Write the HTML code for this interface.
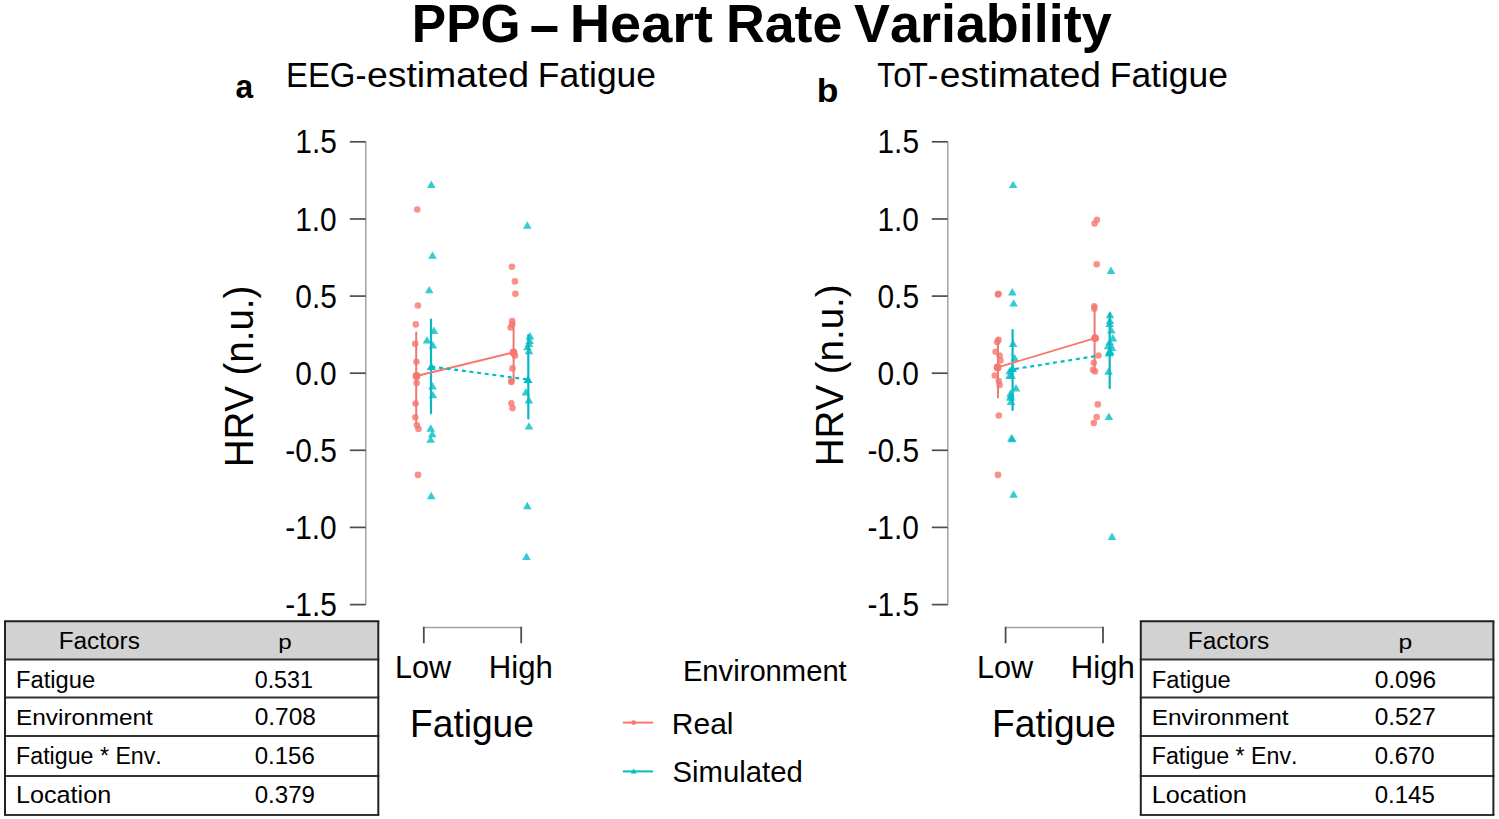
<!DOCTYPE html>
<html><head><meta charset="utf-8"><title>PPG - Heart Rate Variability</title>
<style>
html,body{margin:0;padding:0;background:#fff;}
body{width:1499px;height:819px;overflow:hidden;}
svg{display:block;font-family:"Liberation Sans",sans-serif;font-kerning:none;}
text{font-kerning:none;}
</style></head><body>
<svg width="1499" height="819" viewBox="0 0 1499 819">
<rect width="1499" height="819" fill="#fff"/>
<text transform="translate(411.86 42.40) scale(0.9497 1)" font-size="54.22" font-weight="bold" fill="#000">PPG</text>
<text transform="translate(569.66 42.40) scale(1.0326 1)" font-size="54.22" font-weight="bold" fill="#000">Heart</text>
<text transform="translate(725.90 42.40) scale(0.9917 1)" font-size="54.22" font-weight="bold" fill="#000">Rate</text>
<text transform="translate(854.03 42.40) scale(0.9943 1)" font-size="54.22" font-weight="bold" fill="#000">Variability</text>
<rect x="531.4" y="26.0" width="26.0" height="6.0" fill="#000"/>
<text transform="translate(235.47 97.80) scale(0.9543 1)" font-size="33.21" font-weight="bold" fill="#000">a</text>
<text transform="translate(816.66 102.40) scale(1.0648 1)" font-size="33.36" font-weight="bold" fill="#000">b</text>
<text transform="translate(286.00 86.60) scale(0.9297 1)" font-size="35.40" fill="#000">EEG-</text>
<text transform="translate(366.91 86.60) scale(1.0569 1)" font-size="35.40" fill="#000">estimated</text>
<text transform="translate(537.79 86.60) scale(1.0018 1)" font-size="35.40" fill="#000">Fatigue</text>
<text transform="translate(877.34 87.00) scale(0.8296 1)" font-size="35.60" fill="#000">T</text>
<text transform="translate(908.70 87.00) scale(0.8777 1)" font-size="35.60" fill="#000">T-</text>
<text transform="translate(939.82 87.00) scale(1.0449 1)" font-size="35.60" fill="#000">estimated</text>
<text transform="translate(1109.79 87.00) scale(0.9953 1)" font-size="35.60" fill="#000">Fatigue</text>
<text transform="translate(893.21 87.00) scale(0.9281 1)" font-size="35.60" fill="#000">o</text>
<text transform="translate(253.10 467.36) rotate(-90) scale(0.9592 1)" font-size="40.12" fill="#000">HRV (n.u.)</text>
<text transform="translate(842.90 466.16) rotate(-90) scale(0.9697 1)" font-size="39.68" fill="#000">HRV (n.u.)</text>
<path d="M365.8 141.8V604.6" stroke="#a3a3a3" stroke-width="1.5" fill="none"/>
<path d="M349.8 141.8H365.8" stroke="#4d4d4d" stroke-width="1.7"/>
<path d="M349.8 219.0H365.8" stroke="#4d4d4d" stroke-width="1.7"/>
<path d="M349.8 296.1H365.8" stroke="#4d4d4d" stroke-width="1.7"/>
<path d="M349.8 373.2H365.8" stroke="#4d4d4d" stroke-width="1.7"/>
<path d="M349.8 450.3H365.8" stroke="#4d4d4d" stroke-width="1.7"/>
<path d="M349.8 527.4H365.8" stroke="#4d4d4d" stroke-width="1.7"/>
<path d="M349.8 604.6H365.8" stroke="#4d4d4d" stroke-width="1.7"/>
<text transform="translate(295.27 153.40) scale(0.965 1.045)" font-size="31.0" fill="#000">1.5</text>
<text transform="translate(295.18 230.60) scale(0.965 1.045)" font-size="31.0" fill="#000">1.0</text>
<text transform="translate(295.27 307.70) scale(0.965 1.045)" font-size="31.0" fill="#000">0.5</text>
<text transform="translate(295.18 384.80) scale(0.965 1.045)" font-size="31.0" fill="#000">0.0</text>
<text transform="translate(285.31 461.90) scale(0.965 1.045)" font-size="31.0" fill="#000">-0.5</text>
<text transform="translate(285.22 539.00) scale(0.965 1.045)" font-size="31.0" fill="#000">-1.0</text>
<text transform="translate(285.31 616.20) scale(0.965 1.045)" font-size="31.0" fill="#000">-1.5</text>
<path d="M947.8 141.8V604.6" stroke="#a3a3a3" stroke-width="1.5" fill="none"/>
<path d="M931.8 141.8H947.8" stroke="#4d4d4d" stroke-width="1.7"/>
<path d="M931.8 219.0H947.8" stroke="#4d4d4d" stroke-width="1.7"/>
<path d="M931.8 296.1H947.8" stroke="#4d4d4d" stroke-width="1.7"/>
<path d="M931.8 373.2H947.8" stroke="#4d4d4d" stroke-width="1.7"/>
<path d="M931.8 450.3H947.8" stroke="#4d4d4d" stroke-width="1.7"/>
<path d="M931.8 527.4H947.8" stroke="#4d4d4d" stroke-width="1.7"/>
<path d="M931.8 604.6H947.8" stroke="#4d4d4d" stroke-width="1.7"/>
<text transform="translate(877.47 153.40) scale(0.965 1.045)" font-size="31.0" fill="#000">1.5</text>
<text transform="translate(877.38 230.60) scale(0.965 1.045)" font-size="31.0" fill="#000">1.0</text>
<text transform="translate(877.47 307.70) scale(0.965 1.045)" font-size="31.0" fill="#000">0.5</text>
<text transform="translate(877.38 384.80) scale(0.965 1.045)" font-size="31.0" fill="#000">0.0</text>
<text transform="translate(867.51 461.90) scale(0.965 1.045)" font-size="31.0" fill="#000">-0.5</text>
<text transform="translate(867.42 539.00) scale(0.965 1.045)" font-size="31.0" fill="#000">-1.0</text>
<text transform="translate(867.51 616.20) scale(0.965 1.045)" font-size="31.0" fill="#000">-1.5</text>
<path d="M423.8 627.5H521.2" stroke="#a3a3a3" stroke-width="1.5" fill="none"/>
<path d="M423.8 626.8V643.2M521.2 626.8V643.2" stroke="#4d4d4d" stroke-width="1.8" fill="none"/>
<text transform="translate(394.89 678.20) scale(0.9501 1)" font-size="32.27" fill="#000">Low</text>
<text transform="translate(488.74 678.20) scale(0.9656 1)" font-size="32.27" fill="#000">High</text>
<text transform="translate(410.05 736.80) scale(0.9754 1)" font-size="38.08" fill="#000">Fatigue</text>
<path d="M1005.6 627.5H1103.0" stroke="#a3a3a3" stroke-width="1.5" fill="none"/>
<path d="M1005.6 626.8V643.2M1103.0 626.8V643.2" stroke="#4d4d4d" stroke-width="1.8" fill="none"/>
<text transform="translate(976.89 678.20) scale(0.9501 1)" font-size="32.27" fill="#000">Low</text>
<text transform="translate(1070.74 678.20) scale(0.9656 1)" font-size="32.27" fill="#000">High</text>
<text transform="translate(992.05 736.80) scale(0.9754 1)" font-size="38.08" fill="#000">Fatigue</text>
<circle cx="417.2" cy="209.5" r="3.3" fill="#F8766D" fill-opacity="0.8"/>
<circle cx="417.9" cy="305.5" r="3.3" fill="#F8766D" fill-opacity="0.8"/>
<circle cx="415.8" cy="324.4" r="3.3" fill="#F8766D" fill-opacity="0.8"/>
<circle cx="415.2" cy="343.8" r="3.3" fill="#F8766D" fill-opacity="0.8"/>
<circle cx="416.4" cy="361.7" r="3.3" fill="#F8766D" fill-opacity="0.8"/>
<circle cx="416.6" cy="376.4" r="3.3" fill="#F8766D" fill-opacity="0.8"/>
<circle cx="416.6" cy="383.1" r="3.3" fill="#F8766D" fill-opacity="0.8"/>
<circle cx="415.6" cy="403.5" r="3.3" fill="#F8766D" fill-opacity="0.8"/>
<circle cx="415.3" cy="417.3" r="3.3" fill="#F8766D" fill-opacity="0.8"/>
<circle cx="416.9" cy="425.2" r="3.3" fill="#F8766D" fill-opacity="0.8"/>
<circle cx="418.5" cy="428.9" r="3.3" fill="#F8766D" fill-opacity="0.8"/>
<circle cx="418" cy="474.9" r="3.3" fill="#F8766D" fill-opacity="0.8"/>
<circle cx="511.9" cy="266.7" r="3.3" fill="#F8766D" fill-opacity="0.8"/>
<circle cx="514.9" cy="281.4" r="3.3" fill="#F8766D" fill-opacity="0.8"/>
<circle cx="515.4" cy="293.7" r="3.3" fill="#F8766D" fill-opacity="0.8"/>
<circle cx="512.2" cy="321.1" r="3.3" fill="#F8766D" fill-opacity="0.8"/>
<circle cx="512.2" cy="324.3" r="3.3" fill="#F8766D" fill-opacity="0.8"/>
<circle cx="510.6" cy="327.5" r="3.3" fill="#F8766D" fill-opacity="0.8"/>
<circle cx="515" cy="355.7" r="3.3" fill="#F8766D" fill-opacity="0.8"/>
<circle cx="512.5" cy="368.4" r="3.3" fill="#F8766D" fill-opacity="0.8"/>
<circle cx="511.3" cy="381.1" r="3.3" fill="#F8766D" fill-opacity="0.8"/>
<circle cx="511.3" cy="382" r="3.3" fill="#F8766D" fill-opacity="0.8"/>
<circle cx="511.3" cy="403.3" r="3.3" fill="#F8766D" fill-opacity="0.8"/>
<circle cx="512.5" cy="408.1" r="3.3" fill="#F8766D" fill-opacity="0.8"/>
<path d="M431.3 180.6L435.6 188.0L427.0 188.0Z" fill="#00BFC4" fill-opacity="0.8"/>
<path d="M432.5 251.4L436.8 258.8L428.2 258.8Z" fill="#00BFC4" fill-opacity="0.8"/>
<path d="M429.2 285.9L433.5 293.3L424.9 293.3Z" fill="#00BFC4" fill-opacity="0.8"/>
<path d="M433.9 326.5L438.2 333.9L429.6 333.9Z" fill="#00BFC4" fill-opacity="0.8"/>
<path d="M427.0 336.2L431.3 343.6L422.7 343.6Z" fill="#00BFC4" fill-opacity="0.8"/>
<path d="M432.9 341.1L437.2 348.5L428.6 348.5Z" fill="#00BFC4" fill-opacity="0.8"/>
<path d="M432.5 382.1L436.8 389.5L428.2 389.5Z" fill="#00BFC4" fill-opacity="0.8"/>
<path d="M433.0 390.9L437.3 398.3L428.7 398.3Z" fill="#00BFC4" fill-opacity="0.8"/>
<path d="M430.7 424.3L435.0 431.7L426.4 431.7Z" fill="#00BFC4" fill-opacity="0.8"/>
<path d="M432.3 429.9L436.6 437.3L428.0 437.3Z" fill="#00BFC4" fill-opacity="0.8"/>
<path d="M430.7 435.4L435.0 442.8L426.4 442.8Z" fill="#00BFC4" fill-opacity="0.8"/>
<path d="M431.2 491.8L435.5 499.2L426.9 499.2Z" fill="#00BFC4" fill-opacity="0.8"/>
<path d="M527.3 221.3L531.6 228.7L523.0 228.7Z" fill="#00BFC4" fill-opacity="0.8"/>
<path d="M530.0 332.1L534.3 339.5L525.7 339.5Z" fill="#00BFC4" fill-opacity="0.8"/>
<path d="M529.7 336.5L534.0 343.9L525.4 343.9Z" fill="#00BFC4" fill-opacity="0.8"/>
<path d="M529.0 339.7L533.3 347.1L524.7 347.1Z" fill="#00BFC4" fill-opacity="0.8"/>
<path d="M527.5 342.9L531.8 350.3L523.2 350.3Z" fill="#00BFC4" fill-opacity="0.8"/>
<path d="M529.0 346.9L533.3 354.3L524.7 354.3Z" fill="#00BFC4" fill-opacity="0.8"/>
<path d="M525.9 388.1L530.2 395.5L521.6 395.5Z" fill="#00BFC4" fill-opacity="0.8"/>
<path d="M528.9 396.1L533.2 403.5L524.6 403.5Z" fill="#00BFC4" fill-opacity="0.8"/>
<path d="M529.0 422.2L533.3 429.6L524.7 429.6Z" fill="#00BFC4" fill-opacity="0.8"/>
<path d="M527.3 501.8L531.6 509.2L523.0 509.2Z" fill="#00BFC4" fill-opacity="0.8"/>
<path d="M526.5 552.6L530.8 560.0L522.2 560.0Z" fill="#00BFC4" fill-opacity="0.8"/>
<path d="M416.2 332.4V424" stroke="#EA7A76" stroke-width="2.0" stroke-linecap="round"/>
<path d="M431.0 319.6V413.3" stroke="#0CB6C3" stroke-width="2.2" stroke-linecap="round"/>
<path d="M513.6 324V381" stroke="#EA7A76" stroke-width="2.0" stroke-linecap="round"/>
<path d="M528.3 335V418.4" stroke="#0CB6C3" stroke-width="2.2" stroke-linecap="round"/>
<path d="M416.5 376.0L513.5 352.5" stroke="#F8766D" stroke-width="1.9"/>
<path d="M431.3 366.6L528 379.5" stroke="#00BFC4" stroke-width="2.2" stroke-dasharray="4 3.7"/>
<circle cx="416.5" cy="376.0" r="3.9" fill="#F8766D"/>
<path d="M431.3 362.4L435.8 370.0L426.8 370.0Z" fill="#00BFC4"/>
<circle cx="513.5" cy="352.5" r="3.9" fill="#F8766D"/>
<path d="M528.0 375.3L532.5 382.9L523.5 382.9Z" fill="#00BFC4"/>
<circle cx="998.5" cy="293.7" r="3.3" fill="#F8766D" fill-opacity="0.8"/>
<circle cx="998.0" cy="294.6" r="3.3" fill="#F8766D" fill-opacity="0.8"/>
<circle cx="998.5" cy="339.8" r="3.3" fill="#F8766D" fill-opacity="0.8"/>
<circle cx="997.2" cy="342.1" r="3.3" fill="#F8766D" fill-opacity="0.8"/>
<circle cx="995.6" cy="351.7" r="3.3" fill="#F8766D" fill-opacity="0.8"/>
<circle cx="999.6" cy="355.6" r="3.3" fill="#F8766D" fill-opacity="0.8"/>
<circle cx="1000.4" cy="360.4" r="3.3" fill="#F8766D" fill-opacity="0.8"/>
<circle cx="994.8" cy="375.5" r="3.3" fill="#F8766D" fill-opacity="0.8"/>
<circle cx="998.8" cy="381" r="3.3" fill="#F8766D" fill-opacity="0.8"/>
<circle cx="999.6" cy="385" r="3.3" fill="#F8766D" fill-opacity="0.8"/>
<circle cx="998.8" cy="415.5" r="3.3" fill="#F8766D" fill-opacity="0.8"/>
<circle cx="998" cy="474.9" r="3.3" fill="#F8766D" fill-opacity="0.8"/>
<circle cx="1097" cy="219.8" r="3.3" fill="#F8766D" fill-opacity="0.8"/>
<circle cx="1094.6" cy="223.5" r="3.3" fill="#F8766D" fill-opacity="0.8"/>
<circle cx="1096.7" cy="264.3" r="3.3" fill="#F8766D" fill-opacity="0.8"/>
<circle cx="1094.3" cy="306.3" r="3.3" fill="#F8766D" fill-opacity="0.8"/>
<circle cx="1094.3" cy="308.7" r="3.3" fill="#F8766D" fill-opacity="0.8"/>
<circle cx="1093.8" cy="362.7" r="3.3" fill="#F8766D" fill-opacity="0.8"/>
<circle cx="1093" cy="369.8" r="3.3" fill="#F8766D" fill-opacity="0.8"/>
<circle cx="1095" cy="371.4" r="3.3" fill="#F8766D" fill-opacity="0.8"/>
<circle cx="1098.5" cy="355.5" r="3.3" fill="#F8766D" fill-opacity="0.8"/>
<circle cx="1097.8" cy="404.4" r="3.3" fill="#F8766D" fill-opacity="0.8"/>
<circle cx="1096.7" cy="417.1" r="3.3" fill="#F8766D" fill-opacity="0.8"/>
<circle cx="1093.8" cy="423" r="3.3" fill="#F8766D" fill-opacity="0.8"/>
<path d="M1013.1 180.7L1017.4 188.1L1008.8 188.1Z" fill="#00BFC4" fill-opacity="0.8"/>
<path d="M1012.3 288.0L1016.6 295.4L1008.0 295.4Z" fill="#00BFC4" fill-opacity="0.8"/>
<path d="M1013.6 299.2L1017.9 306.6L1009.3 306.6Z" fill="#00BFC4" fill-opacity="0.8"/>
<path d="M1013.1 339.6L1017.4 347.0L1008.8 347.0Z" fill="#00BFC4" fill-opacity="0.8"/>
<path d="M1014.7 353.9L1019.0 361.3L1010.4 361.3Z" fill="#00BFC4" fill-opacity="0.8"/>
<path d="M1011.5 371.4L1015.8 378.8L1007.2 378.8Z" fill="#00BFC4" fill-opacity="0.8"/>
<path d="M1016.0 384.1L1020.3 391.5L1011.7 391.5Z" fill="#00BFC4" fill-opacity="0.8"/>
<path d="M1010.7 392.0L1015.0 399.4L1006.4 399.4Z" fill="#00BFC4" fill-opacity="0.8"/>
<path d="M1011.0 397.6L1015.3 405.0L1006.7 405.0Z" fill="#00BFC4" fill-opacity="0.8"/>
<path d="M1009.7 366.9L1014.0 374.3L1005.4 374.3Z" fill="#00BFC4" fill-opacity="0.8"/>
<path d="M1009.5 371.6L1013.8 379.0L1005.2 379.0Z" fill="#00BFC4" fill-opacity="0.8"/>
<path d="M1010.5 389.3L1014.8 396.7L1006.2 396.7Z" fill="#00BFC4" fill-opacity="0.8"/>
<path d="M1010.5 393.4L1014.8 400.8L1006.2 400.8Z" fill="#00BFC4" fill-opacity="0.8"/>
<path d="M1011.5 434.0L1015.8 441.4L1007.2 441.4Z" fill="#00BFC4" fill-opacity="0.8"/>
<path d="M1012.3 434.8L1016.6 442.2L1008.0 442.2Z" fill="#00BFC4" fill-opacity="0.8"/>
<path d="M1013.6 490.3L1017.9 497.7L1009.3 497.7Z" fill="#00BFC4" fill-opacity="0.8"/>
<path d="M1111.0 266.5L1115.3 273.9L1106.7 273.9Z" fill="#00BFC4" fill-opacity="0.8"/>
<path d="M1110.0 310.9L1114.3 318.3L1105.7 318.3Z" fill="#00BFC4" fill-opacity="0.8"/>
<path d="M1110.0 316.5L1114.3 323.9L1105.7 323.9Z" fill="#00BFC4" fill-opacity="0.8"/>
<path d="M1109.7 319.7L1114.0 327.1L1105.4 327.1Z" fill="#00BFC4" fill-opacity="0.8"/>
<path d="M1111.3 326.1L1115.6 333.5L1107.0 333.5Z" fill="#00BFC4" fill-opacity="0.8"/>
<path d="M1112.9 334.0L1117.2 341.4L1108.6 341.4Z" fill="#00BFC4" fill-opacity="0.8"/>
<path d="M1109.7 337.9L1114.0 345.3L1105.4 345.3Z" fill="#00BFC4" fill-opacity="0.8"/>
<path d="M1108.1 341.9L1112.4 349.3L1103.8 349.3Z" fill="#00BFC4" fill-opacity="0.8"/>
<path d="M1112.0 343.5L1116.3 350.9L1107.7 350.9Z" fill="#00BFC4" fill-opacity="0.8"/>
<path d="M1109.7 346.7L1114.0 354.1L1105.4 354.1Z" fill="#00BFC4" fill-opacity="0.8"/>
<path d="M1108.9 349.1L1113.2 356.5L1104.6 356.5Z" fill="#00BFC4" fill-opacity="0.8"/>
<path d="M1108.6 367.3L1112.9 374.7L1104.3 374.7Z" fill="#00BFC4" fill-opacity="0.8"/>
<path d="M1108.9 412.6L1113.2 420.0L1104.6 420.0Z" fill="#00BFC4" fill-opacity="0.8"/>
<path d="M1112.0 532.6L1116.3 540.0L1107.7 540.0Z" fill="#00BFC4" fill-opacity="0.8"/>
<path d="M998 338.2V397.5" stroke="#EA7A76" stroke-width="2.0" stroke-linecap="round"/>
<path d="M1012.6 330.2V410" stroke="#0CB6C3" stroke-width="2.2" stroke-linecap="round"/>
<path d="M1094.6 305.6V371.4" stroke="#EA7A76" stroke-width="2.0" stroke-linecap="round"/>
<path d="M1109.7 313.5V388.1" stroke="#0CB6C3" stroke-width="2.2" stroke-linecap="round"/>
<path d="M997.6 367.4L1095.1 338.1" stroke="#F8766D" stroke-width="1.9"/>
<path d="M1015 369L1098.7 355.6" stroke="#00BFC4" stroke-width="2.2" stroke-dasharray="4 3.7"/>
<circle cx="997.6" cy="367.4" r="3.9" fill="#F8766D"/>
<path d="M1012.5 364.3L1017.0 371.9L1008.0 371.9Z" fill="#00BFC4"/>
<circle cx="1095.1" cy="338.1" r="3.9" fill="#F8766D"/>
<path d="M1110.0 347.8L1114.5 355.4L1105.5 355.4Z" fill="#00BFC4"/>
<text transform="translate(682.90 681.00) scale(1.0094 1)" font-size="28.92" fill="#000">Environment</text>
<path d="M622.9 722.6H653.1" stroke="#F8766D" stroke-width="2"/>
<circle cx="633.7" cy="722.6" r="2.4" fill="#F8766D"/>
<path d="M622.9 771.4H653.1" stroke="#00BFC4" stroke-width="2"/>
<path d="M633.7 768.6L636.7 773.6L630.7 773.6Z" fill="#00BFC4"/>
<text transform="translate(671.84 733.50) scale(1.0063 1)" font-size="29.80" fill="#000">Real</text>
<text transform="translate(672.47 781.80) scale(0.9701 1)" font-size="30.23" fill="#000">Simulated</text>
<rect x="5.0" y="621.2" width="373.3" height="38.39999999999998" fill="#d2d2d2"/>
<path d="M4.0 621.2H379.3" stroke="#1e1e1e" stroke-width="2"/>
<path d="M4.0 659.6H379.3" stroke="#333" stroke-width="2"/>
<path d="M4.0 697.5H379.3" stroke="#333" stroke-width="2"/>
<path d="M4.0 736.1H379.3" stroke="#333" stroke-width="2"/>
<path d="M4.0 775.9H379.3" stroke="#333" stroke-width="2"/>
<path d="M4.0 814.9H379.3" stroke="#333" stroke-width="2"/>
<path d="M5.0 621.2V814.9M378.3 621.2V814.9" stroke="#222" stroke-width="2"/>
<rect x="1140.8" y="621.2" width="352.60000000000014" height="38.39999999999998" fill="#d2d2d2"/>
<path d="M1139.8 621.2H1494.4" stroke="#1e1e1e" stroke-width="2"/>
<path d="M1139.8 659.6H1494.4" stroke="#333" stroke-width="2"/>
<path d="M1139.8 697.5H1494.4" stroke="#333" stroke-width="2"/>
<path d="M1139.8 736.1H1494.4" stroke="#333" stroke-width="2"/>
<path d="M1139.8 775.9H1494.4" stroke="#333" stroke-width="2"/>
<path d="M1139.8 814.9H1494.4" stroke="#333" stroke-width="2"/>
<path d="M1140.8 621.2V814.9M1493.4 621.2V814.9" stroke="#222" stroke-width="2"/>
<text transform="translate(58.70 648.70) scale(1.0290 1)" font-size="23.69" fill="#000">Factors</text>
<text transform="translate(278.14 649.00) scale(1.1634 1)" font-size="20.83" fill="#000">p</text>
<text transform="translate(16.05 687.50) scale(1.0010 1)" font-size="23.69" fill="#000">Fatigue</text>
<text transform="translate(254.69 687.50) scale(1.0128 1)" font-size="23.02" fill="#000">0.531</text>
<text transform="translate(16.00 724.80) scale(1.0693 1)" font-size="22.82" fill="#000">Environment</text>
<text transform="translate(254.64 724.80) scale(1.0626 1)" font-size="23.02" fill="#000">0.708</text>
<text transform="translate(16.10 763.90) scale(0.9799 1)" font-size="23.69" fill="#000">Fatigue * Env.</text>
<text transform="translate(254.66 763.90) scale(1.0449 1)" font-size="23.02" fill="#000">0.156</text>
<text transform="translate(15.93 803.30) scale(1.0706 1)" font-size="23.55" fill="#000">Location</text>
<text transform="translate(254.66 803.30) scale(1.0463 1)" font-size="23.02" fill="#000">0.379</text>
<text transform="translate(1187.80 648.70) scale(1.0316 1)" font-size="23.69" fill="#000">Factors</text>
<text transform="translate(1398.41 649.00) scale(1.1848 1)" font-size="20.83" fill="#000">p</text>
<text transform="translate(1151.75 687.50) scale(1.0010 1)" font-size="23.69" fill="#000">Fatigue</text>
<text transform="translate(1374.64 687.50) scale(1.0664 1)" font-size="23.02" fill="#000">0.096</text>
<text transform="translate(1151.70 724.80) scale(1.0693 1)" font-size="22.82" fill="#000">Environment</text>
<text transform="translate(1374.65 724.80) scale(1.0602 1)" font-size="23.02" fill="#000">0.527</text>
<text transform="translate(1151.80 763.90) scale(0.9799 1)" font-size="23.69" fill="#000">Fatigue * Env.</text>
<text transform="translate(1374.66 763.90) scale(1.0427 1)" font-size="23.02" fill="#000">0.670</text>
<text transform="translate(1151.63 803.30) scale(1.0706 1)" font-size="23.55" fill="#000">Location</text>
<text transform="translate(1374.66 803.30) scale(1.0440 1)" font-size="23.02" fill="#000">0.145</text>
</svg>
</body></html>
